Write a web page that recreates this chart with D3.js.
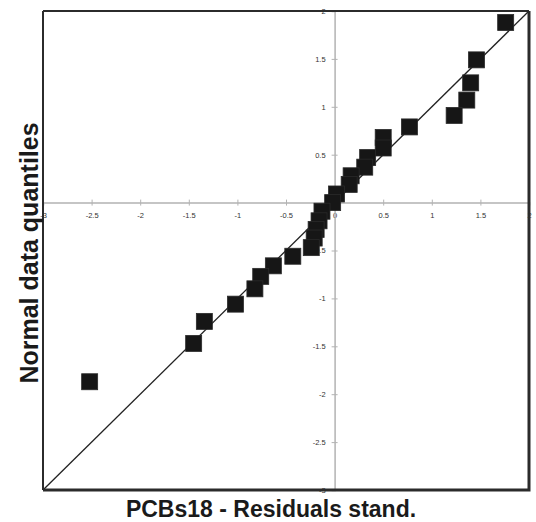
<!DOCTYPE html>
<html>
<head>
<meta charset="utf-8">
<script src="https://cdn.jsdelivr.net/npm/d3@7"></script>
<style>
  html, body { margin: 0; padding: 0; background: #fff; }
  svg { display: block; }
</style>
</head>
<body>
<svg id="chart" width="536" height="522"></svg>
<script>
// Standardised residuals (x) against normal quantiles (y)
const residuals = [
  1.76, 1.46, 1.40, 1.36, 1.23, 0.77, 0.50, 0.50, 0.34, 0.31, 0.17, 0.15, 0.02, -0.02,
  -0.13, -0.16, -0.19, -0.21, -0.24, -0.43, -0.63, -0.76, -0.82, -1.02, -1.34, -1.45, -2.52
];
const quantiles = [
  1.88, 1.49, 1.25, 1.07, 0.91, 0.79, 0.68, 0.57, 0.47, 0.37, 0.28, 0.19, 0.09, 0.00,
  -0.09, -0.19, -0.28, -0.37, -0.47, -0.56, -0.66, -0.77, -0.90, -1.06, -1.24, -1.47, -1.87
];
const xTicks = [-3, -2.5, -2, -1.5, -1, -0.5, 0, 0.5, 1, 1.5, 2];
const yTicks = [-3, -2.5, -2, -1.5, -1, -0.5, 0.5, 1, 1.5, 2];
const refLine = [-3, 2];

const svg = d3.select("#chart");
const plotLeft = 43, plotRight = 529, plotTop = 11, plotBottom = 490;

const x = d3.scaleLinear().domain([-3, 2]).range([plotLeft, plotRight]);
const y = d3.scaleLinear().domain([-3, 2]).range([plotBottom, plotTop]);

const fmt = d => String(d);

// Axes crossing at the origin
const xAxis = svg.append("g")
  .attr("transform", `translate(0,${y(0)})`)
  .call(d3.axisBottom(x).tickValues(xTicks).tickFormat(fmt).tickSize(3).tickPadding(7));
const yAxis = svg.append("g")
  .attr("transform", `translate(${x(0)},0)`)
  .call(d3.axisLeft(y).tickValues(yTicks).tickFormat(fmt).tickSize(3).tickPadding(6));

[xAxis, yAxis].forEach(g => {
  g.select(".domain").attr("stroke", "#b3b3b3").attr("stroke-width", 1.5);
  g.selectAll(".tick line").attr("stroke", "#b3b3b3").attr("stroke-width", 1);
  g.selectAll(".tick text")
    .attr("fill", "#333")
    .attr("font-family", "'Liberation Sans', Arial, sans-serif")
    .attr("font-size", 7.5);
});
xAxis.selectAll(".tick line").attr("y1", -3).attr("y2", 3);
yAxis.selectAll(".tick line").attr("x1", -3).attr("x2", 3);

// Reference line y = x
svg.append("line")
  .attr("x1", x(refLine[0])).attr("y1", y(refLine[0]))
  .attr("x2", x(refLine[1])).attr("y2", y(refLine[1]))
  .attr("stroke", "#222").attr("stroke-width", 1.3);

// Square markers
const size = 16;
svg.append("g")
  .selectAll("rect")
  .data(residuals.map((r, i) => ({ r, q: quantiles[i] })))
  .join("rect")
  .attr("x", d => x(d.r) - size / 2)
  .attr("y", d => y(d.q) - size / 2)
  .attr("width", size)
  .attr("height", size)
  .attr("fill", "#161616")
  .attr("stroke", "#2a2a2a")
  .attr("stroke-width", 0.8);

// Frame
svg.append("path")
  .attr("d", `M${plotLeft},${plotTop}H${plotRight}`)
  .attr("stroke", "#2b2b2b").attr("stroke-width", 2).attr("fill", "none");
svg.append("path")
  .attr("d", `M${plotLeft},${plotTop}V${plotBottom}`)
  .attr("stroke", "#2b2b2b").attr("stroke-width", 2).attr("fill", "none");
svg.append("path")
  .attr("d", `M${plotLeft},${plotBottom}H${plotRight}V${plotTop}`)
  .attr("stroke", "#2b2b2b").attr("stroke-width", 3).attr("fill", "none");

// Axis titles
svg.append("text")
  .attr("x", 271).attr("y", 517)
  .attr("text-anchor", "middle")
  .attr("font-family", "'Liberation Sans', Arial, sans-serif")
  .attr("font-weight", "bold")
  .attr("font-size", 23)
  .attr("fill", "#1a1a1a")
  .text("PCBs18 - Residuals stand.");

svg.append("text")
  .attr("transform", `translate(38,253) rotate(-90)`)
  .attr("text-anchor", "middle")
  .attr("font-family", "'Liberation Sans', Arial, sans-serif")
  .attr("font-weight", "bold")
  .attr("font-size", 25)
  .attr("fill", "#1a1a1a")
  .text("Normal data quantiles");
</script>
</body>
</html>
